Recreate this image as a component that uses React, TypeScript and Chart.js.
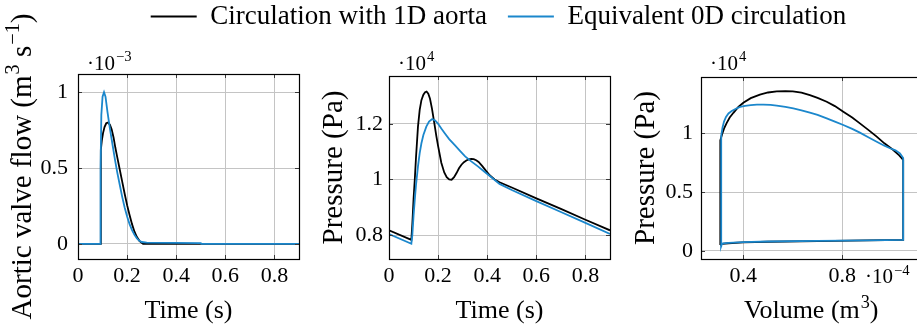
import React, { useEffect, useRef } from "react";
import { Chart, registerables } from "chart.js";

Chart.register(...registerables);

const FONT = "'Liberation Serif', 'DejaVu Serif', serif";
const BLACK = "#000000";
const BLUE = "#1b87cc";
const GRID = "#c4c4c4";
const H = 327;

// ---------- legend ----------
const seriesNames = ["Circulation with 1D aorta", "Equivalent 0D circulation"];
const seriesColors = [BLACK, BLUE];

// ---------- panel 1: aortic valve flow (x 1e-3 m^3/s) vs time (s) ----------
const flowTime1D = [0, 0.091, 0.093, 0.097, 0.102, 0.108, 0.115, 0.122, 0.13, 0.137, 0.145, 0.152, 0.16, 0.17, 0.18, 0.19, 0.2, 0.21, 0.22, 0.23, 0.24, 0.25, 0.258, 0.265, 0.5, 0.9];
const flow1D = [0, 0, 0.62, 0.68, 0.73, 0.77, 0.795, 0.8, 0.785, 0.755, 0.7, 0.635, 0.57, 0.49, 0.41, 0.33, 0.255, 0.19, 0.13, 0.08, 0.045, 0.02, 0.008, 0, 0, 0];
const flowTime0D = [0, 0.09, 0.092, 0.095, 0.1, 0.106, 0.112, 0.12, 0.13, 0.14, 0.15, 0.16, 0.17, 0.18, 0.19, 0.2, 0.21, 0.22, 0.23, 0.24, 0.25, 0.26, 0.28, 0.5, 0.502, 0.9];
const flow0D = [0, 0, 0.5, 0.85, 0.97, 1.0, 0.97, 0.87, 0.76, 0.66, 0.56, 0.47, 0.39, 0.31, 0.24, 0.18, 0.13, 0.09, 0.06, 0.035, 0.02, 0.012, 0.008, 0.005, 0, 0];

// ---------- panel 2: aortic pressure (x 1e4 Pa) vs time (s) ----------
const pressTime1D = [0, 0.091, 0.095, 0.1, 0.105, 0.11, 0.118, 0.125, 0.132, 0.14, 0.147, 0.153, 0.16, 0.167, 0.175, 0.185, 0.193, 0.2, 0.213, 0.225, 0.235, 0.245, 0.255, 0.265, 0.275, 0.285, 0.295, 0.305, 0.315, 0.325, 0.335, 0.345, 0.355, 0.365, 0.38, 0.396, 0.41, 0.43, 0.45, 0.5, 0.6, 0.7, 0.8, 0.9];
const press1D = [0.817, 0.783, 0.84, 0.93, 1.0, 1.08, 1.19, 1.25, 1.285, 1.305, 1.314, 1.316, 1.308, 1.29, 1.255, 1.2, 1.155, 1.12, 1.06, 1.025, 1.008, 1.0, 0.999, 1.008, 1.023, 1.04, 1.053, 1.062, 1.068, 1.072, 1.074, 1.073, 1.069, 1.063, 1.048, 1.03, 1.015, 1.0, 0.99, 0.971, 0.932, 0.894, 0.855, 0.817];
const pressTime0D = [0, 0.091, 0.095, 0.1, 0.105, 0.11, 0.118, 0.125, 0.132, 0.14, 0.152, 0.163, 0.176, 0.188, 0.2, 0.213, 0.227, 0.245, 0.267, 0.29, 0.31, 0.335, 0.362, 0.39, 0.417, 0.45, 0.5, 0.6, 0.7, 0.8, 0.9];
const press0D = [0.804, 0.769, 0.8, 0.87, 0.927, 0.98, 1.047, 1.095, 1.13, 1.16, 1.19, 1.208, 1.217, 1.212, 1.2, 1.183, 1.166, 1.145, 1.124, 1.102, 1.083, 1.065, 1.047, 1.027, 1.008, 0.984, 0.962, 0.922, 0.883, 0.844, 0.804];

// ---------- panel 3: pressure-volume loop (V x 1e-4 m^3, p x 1e4 Pa) ----------
const pvVolume1D = [0.306, 0.306, 0.306, 0.309, 0.314, 0.322, 0.333, 0.345, 0.36, 0.38, 0.4, 0.43, 0.467, 0.5, 0.535, 0.57, 0.6, 0.635, 0.669, 0.7, 0.737, 0.77, 0.804, 0.84, 0.871, 0.905, 0.939, 0.97, 1.006, 1.03, 1.046, 1.046, 1.046, 0.9, 0.7, 0.5, 0.4, 0.34, 0.315, 0.306];
const pvPressure1D = [0.05, 0.5, 0.887, 0.94, 0.99, 1.04, 1.09, 1.135, 1.175, 1.225, 1.26, 1.3, 1.33, 1.348, 1.357, 1.36, 1.358, 1.347, 1.326, 1.302, 1.269, 1.232, 1.184, 1.135, 1.085, 1.03, 0.972, 0.915, 0.858, 0.812, 0.775, 0.5, 0.093, 0.088, 0.083, 0.077, 0.072, 0.064, 0.058, 0.05];
const pvVolume0D = [0.31, 0.31, 0.31, 0.312, 0.316, 0.322, 0.33, 0.34, 0.353, 0.37, 0.387, 0.407, 0.43, 0.455, 0.481, 0.51, 0.535, 0.57, 0.602, 0.635, 0.669, 0.7, 0.737, 0.77, 0.804, 0.84, 0.871, 0.905, 0.939, 0.97, 0.993, 1.015, 1.033, 1.046, 1.046, 1.046, 0.9, 0.7, 0.5, 0.4, 0.34, 0.318, 0.312, 0.31];
const pvPressure0D = [0.037, 0.5, 0.9, 0.98, 1.05, 1.1, 1.14, 1.17, 1.19, 1.21, 1.225, 1.234, 1.24, 1.244, 1.245, 1.242, 1.237, 1.226, 1.213, 1.196, 1.176, 1.157, 1.127, 1.1, 1.071, 1.038, 1.006, 0.967, 0.929, 0.895, 0.873, 0.855, 0.83, 0.79, 0.5, 0.093, 0.089, 0.085, 0.079, 0.074, 0.068, 0.064, 0.05, 0.037];

// ---------- ticks ----------
const timeTicks = [0, 0.2, 0.4, 0.6, 0.8];
const timeTickLabels = ["0", "0.2", "0.4", "0.6", "0.8"];
const flowTicks = [0, 0.5, 1];
const flowTickLabels = ["0", "0.5", "1"];
const pressTicks = [0.8, 1, 1.2];
const pressTickLabels = ["0.8", "1", "1.2"];
const pvPressTicks = [0, 0.5, 1];
const pvPressTickLabels = ["0", "0.5", "1"];
const volumeTicks = [0.4, 0.8];
const volumeTickLabels = ["0.4", "0.8"];

type Part = { t: string; sup?: boolean };

interface PanelCfg {
  canvasLeft: number;
  canvasWidth: number;
  plotLeft: number;
  plotRight: number;
  plotTop: number;
  plotBottom: number;
  xMin: number;
  xMax: number;
  yMin: number;
  yMax: number;
  xTicks: number[];
  xLabels: string[];
  yTicks: number[];
  yLabels: string[];
  yTickPad: number;
  yTitle: Part[];
  xTitle: Part[];
  yExp: Part[];
  xExp?: Part[];
  xExpLeft?: number;
  series: { x: number[]; y: number[] }[];
}

const pts = (xs: number[], ys: number[]) => xs.map((x, i) => ({ x, y: ys[i] }));

function drawRich(ctx: CanvasRenderingContext2D, parts: Part[], x: number, y: number, size: number, center: boolean) {
  const supSize = size * 0.7;
  const widths = parts.map((p) => {
    ctx.font = `${p.sup ? supSize : size}px ${FONT}`;
    return ctx.measureText(p.t).width + (p.sup ? 1 : 0);
  });
  const total = widths.reduce((a, b) => a + b, 0);
  let cx = center ? x - total / 2 : x;
  ctx.textAlign = "left";
  ctx.textBaseline = "alphabetic";
  parts.forEach((p, i) => {
    ctx.font = `${p.sup ? supSize : size}px ${FONT}`;
    ctx.fillText(p.t, cx + (p.sup ? 1 : 0), p.sup ? y - size * 0.4 : y);
    cx += widths[i];
  });
}

const panels: PanelCfg[] = [
  {
    canvasLeft: 0, canvasWidth: 305, plotLeft: 78, plotRight: 299, plotTop: 74, plotBottom: 259,
    xMin: 0, xMax: 0.9, yMin: -0.1, yMax: 1.12,
    xTicks: timeTicks, xLabels: timeTickLabels, yTicks: flowTicks, yLabels: flowTickLabels, yTickPad: 10,
    yTitle: [{ t: "Aortic valve flow (m" }, { t: "3", sup: true }, { t: " s" }, { t: "−1", sup: true }, { t: ")" }],
    xTitle: [{ t: "Time (s)" }],
    yExp: [{ t: "·10" }, { t: "−3", sup: true }],
    series: [{ x: flowTime1D, y: flow1D }, { x: flowTime0D, y: flow0D }],
  },
  {
    canvasLeft: 305, canvasWidth: 310, plotLeft: 389, plotRight: 610, plotTop: 76, plotBottom: 259,
    xMin: 0, xMax: 0.9, yMin: 0.714, yMax: 1.372,
    xTicks: timeTicks, xLabels: timeTickLabels, yTicks: pressTicks, yLabels: pressTickLabels, yTickPad: 6,
    yTitle: [{ t: "Pressure (Pa)" }],
    xTitle: [{ t: "Time (s)" }],
    yExp: [{ t: "·10" }, { t: "4", sup: true }],
    series: [{ x: pressTime1D, y: press1D }, { x: pressTime0D, y: press0D }],
  },
  {
    canvasLeft: 615, canvasWidth: 320, plotLeft: 701, plotRight: 921.5, plotTop: 77, plotBottom: 259,
    xMin: 0.229, xMax: 1.12, yMin: -0.07, yMax: 1.48,
    xTicks: volumeTicks, xLabels: volumeTickLabels, yTicks: pvPressTicks, yLabels: pvPressTickLabels, yTickPad: 8,
    yTitle: [{ t: "Pressure (Pa)" }],
    xTitle: [{ t: "Volume (m" }, { t: "3", sup: true }, { t: ")" }],
    yExp: [{ t: "·10" }, { t: "4", sup: true }],
    xExp: [{ t: "·10" }, { t: "−4", sup: true }],
    xExpLeft: 865,
    series: [{ x: pvVolume1D, y: pvPressure1D }, { x: pvVolume0D, y: pvPressure0D }],
  },
];

function labelFor(ticks: number[], labels: string[], v: number) {
  const i = ticks.findIndex((t) => Math.abs(t - v) < 1e-9);
  return i >= 0 ? labels[i] : "";
}

function decorPlugin(cfg: PanelCfg) {
  return {
    id: "decor",
    afterDraw(chart: any) {
      const ctx: CanvasRenderingContext2D = chart.ctx;
      const a = chart.chartArea;
      const sx = chart.scales.x;
      const sy = chart.scales.y;
      ctx.save();
      ctx.strokeStyle = "#3a3a3a";
      ctx.lineWidth = 1;
      ctx.beginPath();
      cfg.xTicks.forEach((v) => {
        const px = Math.round(sx.getPixelForValue(v)) + 0.5;
        ctx.moveTo(px, a.bottom);
        ctx.lineTo(px, a.bottom - 4);
        ctx.moveTo(px, a.top);
        ctx.lineTo(px, a.top + 4);
      });
      cfg.yTicks.forEach((v) => {
        const py = Math.round(sy.getPixelForValue(v)) + 0.5;
        ctx.moveTo(a.left, py);
        ctx.lineTo(a.left + 4, py);
        ctx.moveTo(a.right, py);
        ctx.lineTo(a.right - 4, py);
      });
      ctx.stroke();
      ctx.strokeStyle = "#000";
      ctx.lineWidth = 1.2;
      ctx.strokeRect(Math.round(a.left) + 0.5, Math.round(a.top) + 0.5, Math.round(a.right - a.left), Math.round(a.bottom - a.top));
      ctx.fillStyle = "#000";
      ctx.save();
      ctx.translate(a.left - 47, (a.top + a.bottom) / 2);
      ctx.rotate(-Math.PI / 2);
      drawRich(ctx, cfg.yTitle, 0, 0, 29, true);
      ctx.restore();
      drawRich(ctx, cfg.xTitle, (a.left + a.right) / 2, 318, 26, true);
      drawRich(ctx, cfg.yExp, a.left + 9, 69.5, 21, false);
      if (cfg.xExp && cfg.xExpLeft !== undefined) {
        drawRich(ctx, cfg.xExp, cfg.xExpLeft - cfg.canvasLeft, 283, 21, false);
      }
      ctx.restore();
    },
  };
}

function Panel({ cfg }: { cfg: PanelCfg }) {
  const ref = useRef<HTMLCanvasElement>(null);
  useEffect(() => {
    const tickFont = { family: FONT, size: 22, lineHeight: 1 };
    const chart = new Chart(ref.current as HTMLCanvasElement, {
      type: "scatter",
      data: {
        datasets: cfg.series.map((s, i) => ({
          label: seriesNames[i],
          data: pts(s.x, s.y),
          borderColor: seriesColors[i],
          backgroundColor: seriesColors[i],
          borderWidth: 1.8,
          showLine: true,
          pointRadius: 0,
          pointHoverRadius: 0,
          tension: 0,
          fill: false,
          order: i === 0 ? 1 : 0,
        })),
      },
      options: {
        responsive: false,
        animation: false,
        events: [],
        layout: {
          padding: {
            left: 0,
            top: cfg.plotTop,
            right: cfg.canvasLeft + cfg.canvasWidth - cfg.plotRight,
            bottom: 0,
          },
        },
        plugins: { legend: { display: false }, tooltip: { enabled: false } },
        scales: {
          x: {
            type: "linear",
            min: cfg.xMin,
            max: cfg.xMax,
            afterBuildTicks: (s: any) => {
              s.ticks = cfg.xTicks.map((v) => ({ value: v }));
            },
            afterFit: (s: any) => {
              s.height = H - cfg.plotBottom;
              s.paddingLeft = 0;
              s.paddingRight = 0;
            },
            grid: { color: GRID, lineWidth: 1, drawTicks: false },
            border: { display: false },
            ticks: {
              padding: 6,
              color: "#000",
              font: tickFont,
              maxRotation: 0,
              autoSkip: false,
              callback: (v: any) => labelFor(cfg.xTicks, cfg.xLabels, Number(v)),
            },
          },
          y: {
            type: "linear",
            min: cfg.yMin,
            max: cfg.yMax,
            afterBuildTicks: (s: any) => {
              s.ticks = cfg.yTicks.map((v) => ({ value: v }));
            },
            afterFit: (s: any) => {
              s.width = cfg.plotLeft - cfg.canvasLeft;
              s.paddingTop = 0;
              s.paddingBottom = 0;
            },
            grid: { color: GRID, lineWidth: 1, drawTicks: false },
            border: { display: false },
            ticks: {
              padding: cfg.yTickPad,
              color: "#000",
              font: tickFont,
              autoSkip: false,
              callback: (v: any) => labelFor(cfg.yTicks, cfg.yLabels, Number(v)),
            },
          },
        },
      } as any,
      plugins: [decorPlugin(cfg)],
    });
    return () => chart.destroy();
  }, [cfg]);
  return (
    <div style={{ position: "absolute", left: cfg.canvasLeft, top: 0, width: cfg.canvasWidth, height: H }}>
      <canvas ref={ref} width={cfg.canvasWidth} height={H} />
    </div>
  );
}

function Legend() {
  const ref = useRef<HTMLCanvasElement>(null);
  useEffect(() => {
    const chart = new Chart(ref.current as HTMLCanvasElement, {
      type: "line",
      data: { labels: [], datasets: [] },
      options: {
        responsive: false,
        animation: false,
        events: [],
        scales: { x: { display: false }, y: { display: false } },
        plugins: {
          tooltip: { enabled: false },
          legend: {
            display: true,
            position: "top",
            align: "center",
            labels: {
              color: "#000",
              font: { family: FONT, size: 27 },
              usePointStyle: true,
              pointStyleWidth: 46,
              padding: 21,
              generateLabels: () =>
                seriesNames.map((name, i) => ({
                  text: name,
                  fillStyle: seriesColors[i],
                  strokeStyle: seriesColors[i],
                  fontColor: "#000",
                  lineWidth: 2,
                  pointStyle: "line",
                  hidden: false,
                  datasetIndex: i,
                })),
            },
          },
        },
      } as any,
    });
    return () => chart.destroy();
  }, []);
  return (
    <div style={{ position: "absolute", left: 40, top: -18, width: 917, height: 160 }}>
      <canvas ref={ref} width={917} height={160} />
    </div>
  );
}

export default function App() {
  return (
    <div
      style={{
        position: "fixed",
        left: 0,
        top: 0,
        width: 917,
        height: H,
        overflow: "hidden",
        background: "#fff",
      }}
    >
      {panels.map((p, i) => (
        <Panel key={i} cfg={p} />
      ))}
      <Legend />
    </div>
  );
}
